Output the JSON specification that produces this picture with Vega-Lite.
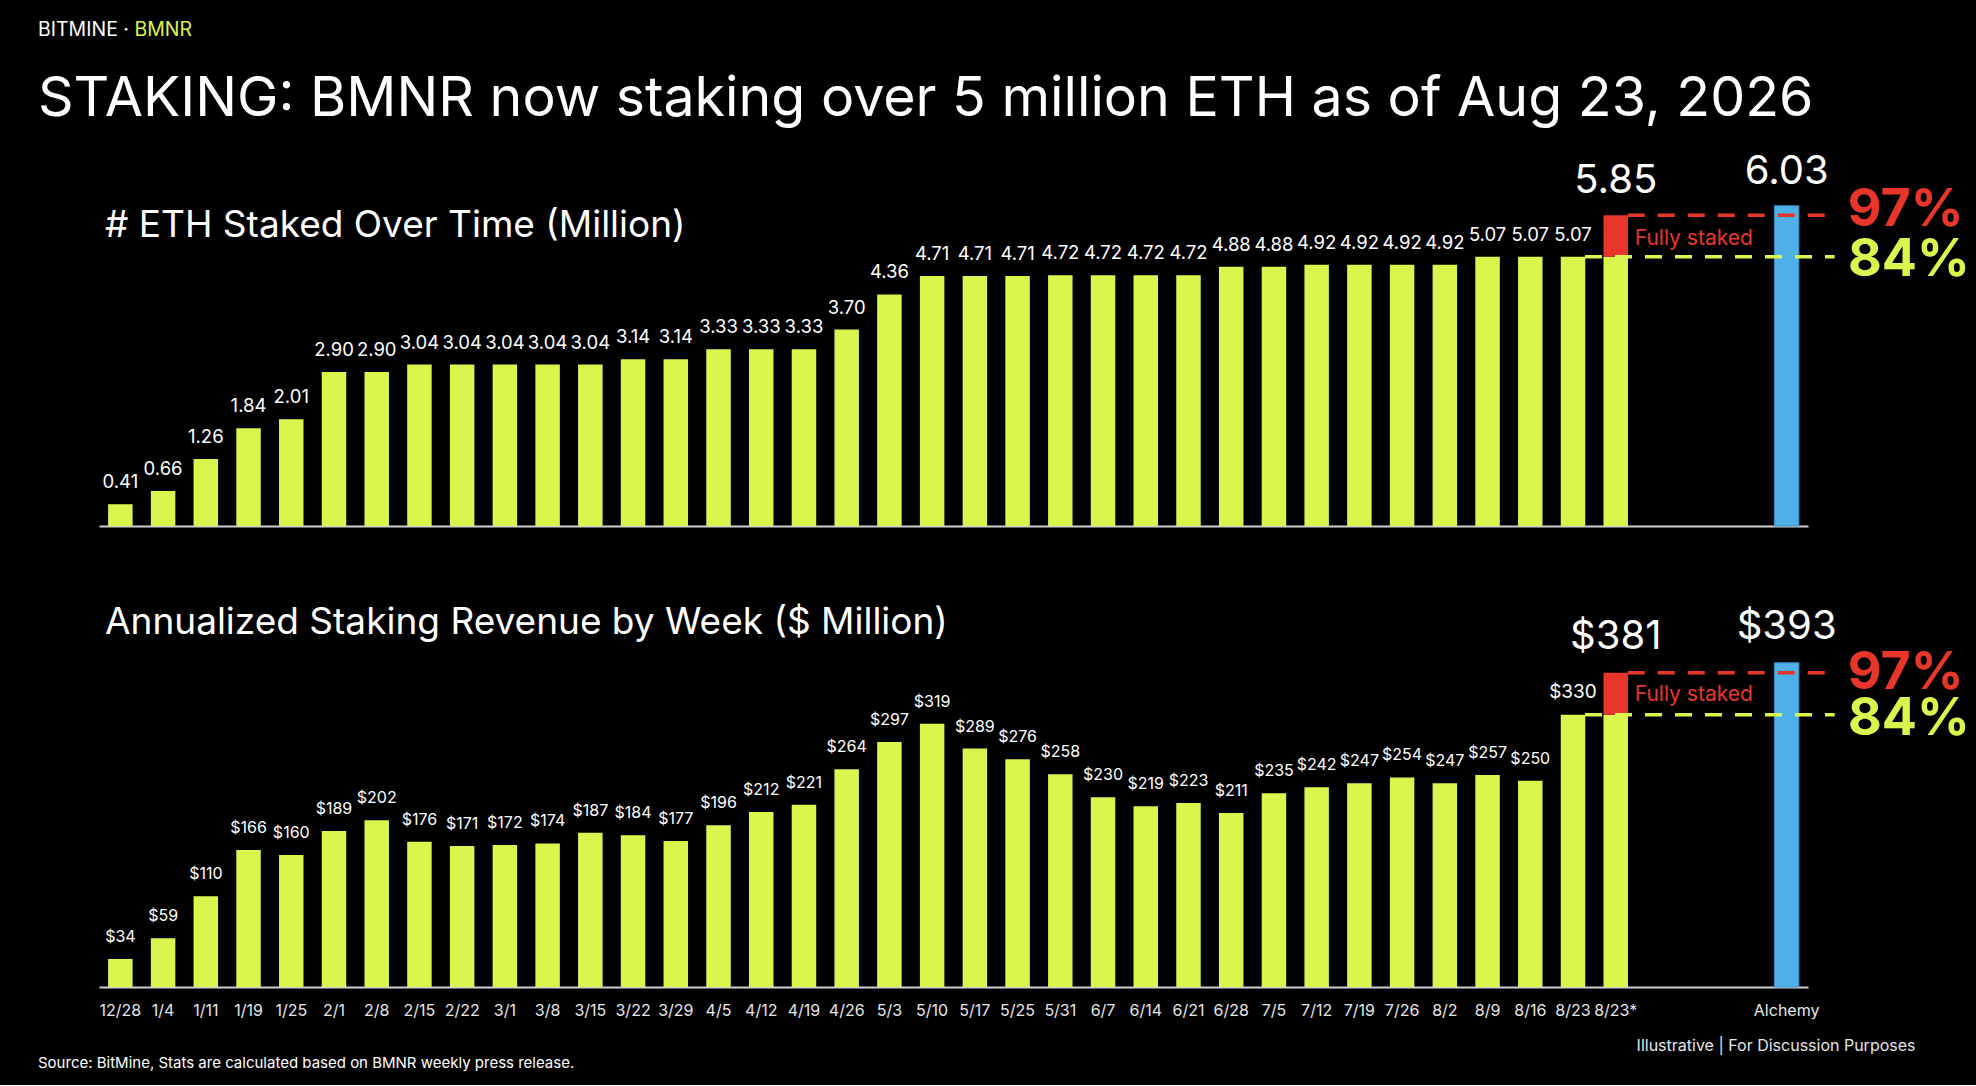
{
  "$schema": "https://vega.github.io/schema/vega-lite/v6.json",
  "description": "BitMine weekly ETH staked and annualized staking revenue, with fully staked and Alchemy comparison",
  "background": "#000000",
  "autosize": {"type": "pad"},
  "padding": {"left": 38, "top": 20, "right": 11, "bottom": 14},
  "config": {
    "font": "Inter",
    "view": {"stroke": null},
    "title": {"fontWeight": "normal"}
  },
  "datasets": {
    "weekly": [
      {"week": "12/28", "eth": 0.41, "rev": 34},
      {"week": "1/4", "eth": 0.66, "rev": 59},
      {"week": "1/11", "eth": 1.26, "rev": 110},
      {"week": "1/19", "eth": 1.84, "rev": 166},
      {"week": "1/25", "eth": 2.01, "rev": 160},
      {"week": "2/1", "eth": 2.90, "rev": 189},
      {"week": "2/8", "eth": 2.90, "rev": 202},
      {"week": "2/15", "eth": 3.04, "rev": 176},
      {"week": "2/22", "eth": 3.04, "rev": 171},
      {"week": "3/1", "eth": 3.04, "rev": 172},
      {"week": "3/8", "eth": 3.04, "rev": 174},
      {"week": "3/15", "eth": 3.04, "rev": 187},
      {"week": "3/22", "eth": 3.14, "rev": 184},
      {"week": "3/29", "eth": 3.14, "rev": 177},
      {"week": "4/5", "eth": 3.33, "rev": 196},
      {"week": "4/12", "eth": 3.33, "rev": 212},
      {"week": "4/19", "eth": 3.33, "rev": 221},
      {"week": "4/26", "eth": 3.70, "rev": 264},
      {"week": "5/3", "eth": 4.36, "rev": 297},
      {"week": "5/10", "eth": 4.71, "rev": 319},
      {"week": "5/17", "eth": 4.71, "rev": 289},
      {"week": "5/25", "eth": 4.71, "rev": 276},
      {"week": "5/31", "eth": 4.72, "rev": 258},
      {"week": "6/7", "eth": 4.72, "rev": 230},
      {"week": "6/14", "eth": 4.72, "rev": 219},
      {"week": "6/21", "eth": 4.72, "rev": 223},
      {"week": "6/28", "eth": 4.88, "rev": 211},
      {"week": "7/5", "eth": 4.88, "rev": 235},
      {"week": "7/12", "eth": 4.92, "rev": 242},
      {"week": "7/19", "eth": 4.92, "rev": 247},
      {"week": "7/26", "eth": 4.92, "rev": 254},
      {"week": "8/2", "eth": 4.92, "rev": 247},
      {"week": "8/9", "eth": 5.07, "rev": 257},
      {"week": "8/16", "eth": 5.07, "rev": 250},
      {"week": "8/23", "eth": 5.07, "rev": 330},
      {"week": "8/23*", "eth": 5.07, "rev": 330, "eth_full": 5.85, "rev_full": 381}
    ],
    "alchemy": [
      {"week": "Alchemy", "eth": 6.03, "rev": 393}
    ],
    "refs": [
      {"level": "97%", "week": "8/23*", "to": "Alchemy", "eth": 5.85, "rev": 381},
      {"level": "84%", "week": "8/23", "to": "Alchemy", "eth": 5.07, "rev": 330}
    ]
  },
  "title": {
    "text": "BITMINE · BMNR",
    "subtitle": "STAKING: BMNR now staking over 5 million ETH as of Aug 23, 2026",
    "anchor": "start",
    "frame": "group",
    "dx": -61,
    "offset": 23,
    "fontSize": 19.5,
    "color": {
      "value": {
        "gradient": "linear", "x1": 0, "y1": 0, "x2": 1, "y2": 0,
        "stops": [
          {"offset": 0, "color": "#ffffff"},
          {"offset": 0.615, "color": "#ffffff"},
          {"offset": 0.615, "color": "#d9f64f"},
          {"offset": 1, "color": "#d9f64f"}
        ]
      }
    },
    "subtitleFont": "Inter",
    "subtitleFontSize": 55.5,
    "subtitleColor": "#ffffff",
    "subtitlePadding": 31
  },
  "vconcat": [
    {
      "title": {
        "text": "Source: BitMine, Stats are calculated based on BMNR weekly press release.",
        "orient": "bottom",
        "anchor": "start",
        "frame": "group",
        "dx": -61,
        "offset": 3,
        "fontSize": 15,
        "color": "#ffffff"
      },
      "spacing": 73,
      "vconcat": [
        {
          "width": 1709,
          "height": 375,
          "title": {
            "text": "# ETH Staked Over Time (Million)",
            "anchor": "start",
            "frame": "group",
            "dx": 6,
            "offset": -123,
            "baseline": "alphabetic",
            "fontSize": 37,
            "color": "#ffffff"
          },
          "encoding": {
            "x": {
              "field": "week",
              "type": "ordinal",
              "scale": {
                "type": "band",
                "domain": ["12/28", "1/4", "1/11", "1/19", "1/25", "2/1", "2/8", "2/15", "2/22", "3/1", "3/8", "3/15", "3/22", "3/29", "4/5", "4/12", "4/19", "4/26", "5/3", "5/10", "5/17", "5/25", "5/31", "6/7", "6/14", "6/21", "6/28", "7/5", "7/12", "7/19", "7/26", "8/2", "8/9", "8/16", "8/23", "8/23*", " ", "  ", "   ", "Alchemy"],
                "paddingInner": 0.427,
                "paddingOuter": 0.2135
              },
              "axis": {"labels": false, "ticks": false, "title": null, "domainColor": "#d0d0d0", "domainWidth": 2}
            }
          },
          "layer": [
            {
              "data": {"name": "weekly"},
              "mark": {"type": "bar", "color": "#d9f64f"},
              "encoding": {
                "y": {"field": "eth", "type": "quantitative", "scale": {"domain": [0, 7.062], "nice": false}, "axis": null}
              }
            },
            {
              "data": {"name": "weekly"},
              "transform": [{"filter": "datum.eth_full != null"}],
              "mark": {"type": "bar", "color": "#e8362a"},
              "encoding": {
                "y": {"field": "eth_full", "type": "quantitative", "scale": {"domain": [0, 7.062], "nice": false}, "axis": null},
                "y2": {"field": "eth"}
              }
            },
            {
              "data": {"name": "alchemy"},
              "mark": {"type": "bar", "color": "#4fb0e8", "stroke": "#3a8cc4", "strokeWidth": 1},
              "encoding": {
                "y": {"field": "eth", "type": "quantitative", "scale": {"domain": [0, 7.062], "nice": false}, "axis": null}
              }
            },
            {
              "data": {"name": "refs"},
              "mark": {"type": "rule", "strokeWidth": 3.5, "strokeDash": [17, 13], "xOffset": 12, "x2Offset": 48},
              "encoding": {
                "x2": {"field": "to"},
                "y": {"field": "eth", "type": "quantitative", "scale": {"domain": [0, 7.062], "nice": false}, "axis": null},
                "color": {"field": "level", "type": "nominal", "scale": {"domain": ["97%", "84%"], "range": ["#e8362a", "#d9f64f"]}, "legend": null}
              }
            },
            {
              "data": {"name": "weekly"},
              "transform": [{"filter": "datum.eth_full == null"}],
              "mark": {"type": "text", "color": "#ffffff", "fontSize": 18.5, "baseline": "alphabetic", "dy": -16},
              "encoding": {
                "y": {"field": "eth", "type": "quantitative", "scale": {"domain": [0, 7.062], "nice": false}, "axis": null},
                "text": {"field": "eth", "type": "quantitative", "format": ".2f"}
              }
            },
            {
              "data": {"name": "weekly"},
              "transform": [{"filter": "datum.eth_full != null"}],
              "mark": {"type": "text", "color": "#ffffff", "fontSize": 40, "baseline": "alphabetic", "dy": -22},
              "encoding": {
                "y": {"field": "eth_full", "type": "quantitative", "scale": {"domain": [0, 7.062], "nice": false}, "axis": null},
                "text": {"field": "eth_full", "type": "quantitative", "format": ".2f"}
              }
            },
            {
              "data": {"name": "alchemy"},
              "mark": {"type": "text", "color": "#ffffff", "fontSize": 40, "baseline": "alphabetic", "dy": -22},
              "encoding": {
                "y": {"field": "eth", "type": "quantitative", "scale": {"domain": [0, 7.062], "nice": false}, "axis": null},
                "text": {"field": "eth", "type": "quantitative", "format": ".2f"}
              }
            },
            {
              "data": {"name": "weekly"},
              "transform": [{"filter": "datum.eth_full != null"}],
              "mark": {"type": "text", "color": "#e8362a", "fontSize": 21, "align": "left", "baseline": "middle", "dx": 19, "dy": 24},
              "encoding": {
                "y": {"field": "eth_full", "type": "quantitative", "scale": {"domain": [0, 7.062], "nice": false}, "axis": null},
                "text": {"value": "Fully staked"}
              }
            },
            {
              "data": {"name": "refs"},
              "transform": [{"filter": "datum.level === '97%'"}],
              "mark": {"type": "text", "color": "#e8362a", "fontSize": 52, "fontWeight": "bold", "align": "left", "baseline": "middle", "dx": 232, "dy": -5},
              "encoding": {
                "y": {"field": "eth", "type": "quantitative", "scale": {"domain": [0, 7.062], "nice": false}, "axis": null},
                "text": {"field": "level"}
              }
            },
            {
              "data": {"name": "refs"},
              "transform": [{"filter": "datum.level === '84%'"}],
              "mark": {"type": "text", "color": "#d9f64f", "fontSize": 52, "fontWeight": "bold", "align": "left", "baseline": "middle", "dx": 275, "dy": 3},
              "encoding": {
                "y": {"field": "eth", "type": "quantitative", "scale": {"domain": [0, 7.062], "nice": false}, "axis": null},
                "text": {"field": "level"}
              }
            }
          ]
        },
        {
          "width": 1709,
          "height": 387,
          "title": {
            "text": "Annualized Staking Revenue by Week ($ Million)",
            "anchor": "start",
            "frame": "group",
            "dx": 6,
            "offset": -71,
            "baseline": "alphabetic",
            "fontSize": 37,
            "color": "#ffffff"
          },
          "encoding": {
            "x": {
              "field": "week",
              "type": "ordinal",
              "scale": {
                "type": "band",
                "domain": ["12/28", "1/4", "1/11", "1/19", "1/25", "2/1", "2/8", "2/15", "2/22", "3/1", "3/8", "3/15", "3/22", "3/29", "4/5", "4/12", "4/19", "4/26", "5/3", "5/10", "5/17", "5/25", "5/31", "6/7", "6/14", "6/21", "6/28", "7/5", "7/12", "7/19", "7/26", "8/2", "8/9", "8/16", "8/23", "8/23*", " ", "  ", "   ", "Alchemy"],
                "paddingInner": 0.427,
                "paddingOuter": 0.2135
              },
              "axis": {
                "ticks": false,
                "labelAngle": 0,
                "labelColor": "#e6e6e6",
                "labelFontSize": 16,
                "labelPadding": 15,
                "domainColor": "#d0d0d0",
                "domainWidth": 2,
                "title": "Illustrative  |  For Discussion Purposes",
                "titleX": 1816,
                "titleY": 58,
                "titleAlign": "right",
                "titleBaseline": "middle",
                "titleFontSize": 16,
                "titleFontWeight": "normal",
                "titleColor": "#e6e6e6"
              }
            }
          },
          "layer": [
            {
              "data": {"name": "weekly"},
              "mark": {"type": "bar", "color": "#d9f64f"},
              "encoding": {
                "y": {"field": "rev", "type": "quantitative", "scale": {"domain": [0, 469.1], "nice": false}, "axis": null}
              }
            },
            {
              "data": {"name": "weekly"},
              "transform": [{"filter": "datum.rev_full != null"}],
              "mark": {"type": "bar", "color": "#e8362a"},
              "encoding": {
                "y": {"field": "rev_full", "type": "quantitative", "scale": {"domain": [0, 469.1], "nice": false}, "axis": null},
                "y2": {"field": "rev"}
              }
            },
            {
              "data": {"name": "alchemy"},
              "mark": {"type": "bar", "color": "#4fb0e8", "stroke": "#3a8cc4", "strokeWidth": 1},
              "encoding": {
                "y": {"field": "rev", "type": "quantitative", "scale": {"domain": [0, 469.1], "nice": false}, "axis": null}
              }
            },
            {
              "data": {"name": "refs"},
              "mark": {"type": "rule", "strokeWidth": 3.5, "strokeDash": [17, 13], "xOffset": 12, "x2Offset": 48},
              "encoding": {
                "x2": {"field": "to"},
                "y": {"field": "rev", "type": "quantitative", "scale": {"domain": [0, 469.1], "nice": false}, "axis": null},
                "color": {"field": "level", "type": "nominal", "scale": {"domain": ["97%", "84%"], "range": ["#e8362a", "#d9f64f"]}, "legend": null}
              }
            },
            {
              "data": {"name": "weekly"},
              "transform": [{"filter": "datum.rev_full == null"}],
              "mark": {"type": "text", "color": "#ffffff", "baseline": "alphabetic", "dy": -17},
              "encoding": {
                "y": {"field": "rev", "type": "quantitative", "scale": {"domain": [0, 469.1], "nice": false}, "axis": null},
                "text": {"field": "rev", "type": "quantitative", "format": "$.0f"},
                "size": {"condition": {"test": "datum.week === '8/23'", "value": 19}, "value": 16}
              }
            },
            {
              "data": {"name": "weekly"},
              "transform": [{"filter": "datum.rev_full != null"}],
              "mark": {"type": "text", "color": "#ffffff", "fontSize": 40, "baseline": "alphabetic", "dy": -24},
              "encoding": {
                "y": {"field": "rev_full", "type": "quantitative", "scale": {"domain": [0, 469.1], "nice": false}, "axis": null},
                "text": {"field": "rev_full", "type": "quantitative", "format": "$.0f"}
              }
            },
            {
              "data": {"name": "alchemy"},
              "mark": {"type": "text", "color": "#ffffff", "fontSize": 40, "baseline": "alphabetic", "dy": -24},
              "encoding": {
                "y": {"field": "rev", "type": "quantitative", "scale": {"domain": [0, 469.1], "nice": false}, "axis": null},
                "text": {"field": "rev", "type": "quantitative", "format": "$.0f"}
              }
            },
            {
              "data": {"name": "weekly"},
              "transform": [{"filter": "datum.rev_full != null"}],
              "mark": {"type": "text", "color": "#e8362a", "fontSize": 21, "align": "left", "baseline": "middle", "dx": 19, "dy": 22},
              "encoding": {
                "y": {"field": "rev_full", "type": "quantitative", "scale": {"domain": [0, 469.1], "nice": false}, "axis": null},
                "text": {"value": "Fully staked"}
              }
            },
            {
              "data": {"name": "refs"},
              "transform": [{"filter": "datum.level === '97%'"}],
              "mark": {"type": "text", "color": "#e8362a", "fontSize": 52, "fontWeight": "bold", "align": "left", "baseline": "middle", "dx": 232, "dy": 0},
              "encoding": {
                "y": {"field": "rev", "type": "quantitative", "scale": {"domain": [0, 469.1], "nice": false}, "axis": null},
                "text": {"field": "level"}
              }
            },
            {
              "data": {"name": "refs"},
              "transform": [{"filter": "datum.level === '84%'"}],
              "mark": {"type": "text", "color": "#d9f64f", "fontSize": 52, "fontWeight": "bold", "align": "left", "baseline": "middle", "dx": 275, "dy": 4},
              "encoding": {
                "y": {"field": "rev", "type": "quantitative", "scale": {"domain": [0, 469.1], "nice": false}, "axis": null},
                "text": {"field": "level"}
              }
            }
          ]
        }
      ]
    }
  ]
}
